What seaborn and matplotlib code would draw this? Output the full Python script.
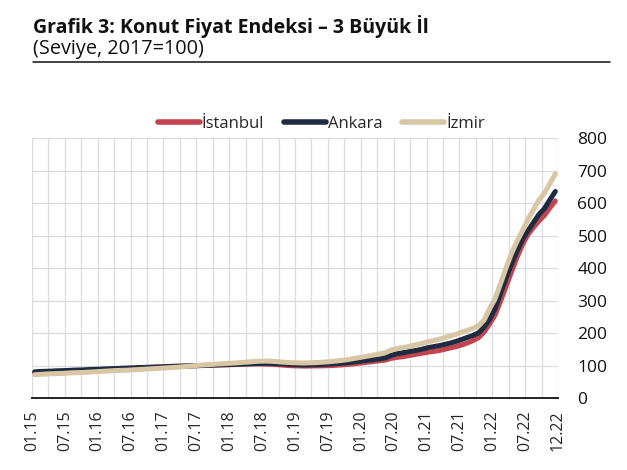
import numpy as np
import pandas as pd
import seaborn as sns
from matplotlib import pyplot as plt
from matplotlib.ticker import MultipleLocator

# Monthly index values, 01.2015 - 12.2022 (2017=100)
istanbul = [
    78, 79, 79.5, 80, 81, 82, 82.5, 83, 84, 84.5, 85, 86,
    87, 88, 88.5, 89.5, 90.5, 91.5, 92, 93, 93.5, 94.5, 95, 96,
    97, 97.5, 98, 98.5, 99, 99.5, 100, 100.5, 101, 101.5, 102, 102.5,
    103, 103.5, 104, 104.5, 105, 105, 104.5, 104, 103, 102, 100.5, 99.5,
    99, 98.5, 98.5, 99, 99, 99.5, 100, 101, 102, 103.5, 105, 107,
    109, 111, 113, 115, 117, 122, 125, 127, 130, 133, 136, 139,
    142, 144, 147, 151, 155, 159, 164, 170, 177, 186, 203, 228,
    255, 298, 343, 388, 432, 472, 503, 525, 545, 562, 585, 607,
]
ankara = [
    81, 82, 82.5, 83, 84, 84.5, 85, 86, 86.5, 87, 88, 88.5,
    89, 90, 90.5, 91, 92, 92.5, 93, 94, 94.5, 95, 95.5, 96,
    97, 97.5, 98, 98.5, 99, 99.5, 100, 100.5, 101, 102, 102.5, 103,
    103.5, 104, 105, 105.5, 106, 106.5, 107, 107, 106, 105, 104, 103,
    102.5, 102, 102, 102.5, 103, 104, 105, 106, 107.5, 109, 111, 113,
    115, 117, 119, 121, 124, 131, 136, 139, 142, 145, 148, 152,
    156, 159, 162, 166, 170, 175, 181, 187, 193, 201, 218, 242,
    275, 322, 368, 412, 452, 488, 515, 540, 565, 583, 610, 636,
]
izmir = [
    72, 73, 74, 75, 75.5, 76, 77, 78, 78.5, 79, 80, 81,
    82, 83, 84, 85, 85.5, 86, 87, 88, 89, 90, 91, 92,
    93, 94, 95, 96.5, 98, 99.5, 101, 102, 103, 104.5, 105.5, 106.5,
    107.5, 108.5, 110, 111, 112.5, 113.5, 114, 113.5, 112.5, 111, 110, 109,
    108.5, 108, 108.5, 109, 110, 111, 112.5, 114, 116, 118, 121, 124,
    127, 130, 133, 136, 140, 148, 152, 155, 158, 162, 166, 170,
    174, 178, 182, 187, 192, 197, 203, 209, 215, 223, 240, 275,
    305, 352, 400, 445, 482, 515, 550, 580, 610, 630, 660, 690,
]
months = pd.date_range("2015-01-01", "2022-12-01", freq="MS").strftime("%m.%y").tolist()
tick_labels = ["01.15", "07.15", "01.16", "07.16", "01.17", "07.17", "01.18", "07.18",
               "01.19", "07.19", "01.20", "07.20", "01.21", "07.21", "01.22", "07.22", "12.22"]
series_names = ["İstanbul", "Ankara", "İzmir"]
colors = ["#C1444F", "#1E2B40", "#D8C6A4"]

df = pd.DataFrame({"Ay": months, "İstanbul": istanbul, "Ankara": ankara, "İzmir": izmir})
df["pos"] = np.arange(len(df)) + 0.5  # category slot centres
long = df.melt(id_vars=["Ay", "pos"], value_vars=series_names, var_name="İl", value_name="Endeks")

sns.set_theme(style="white")
plt.rcParams["font.family"] = ["Open Sans", "DejaVu Sans"]

fig = plt.figure(figsize=(6.27, 4.70), dpi=100)
ax = fig.add_axes([0.051, 0.153, 0.839, 0.553])

sns.lineplot(data=long, x="pos", y="Endeks", hue="İl", hue_order=series_names,
             palette=colors, linewidth=3.6, ax=ax, legend=True)

ax.set_xlim(0, len(df))
ax.set_ylim(0, 800)
ax.yaxis.set_major_locator(MultipleLocator(100))
ax.yaxis.tick_right()
ax.tick_params(axis="y", length=0, labelsize=12.5, pad=14, colors="#111111")
ax.xaxis.set_minor_locator(MultipleLocator(3))
ax.set_xticks(np.arange(0, len(df) + 1, 6))
ax.set_xticklabels(tick_labels, rotation=90, fontsize=11.5)
ax.tick_params(axis="x", which="both", direction="out", length=6, width=1.4,
               color="#222222", pad=3)
ax.grid(True, which="both", color="#DCDCDC", linewidth=0.9)
ax.set_axisbelow(True)
for side in ["top", "left", "right"]:
    ax.spines[side].set_visible(False)
ax.spines["bottom"].set_color("#222222")
ax.spines["bottom"].set_linewidth(1.4)
ax.set_xlabel("")
ax.set_ylabel("")

leg = ax.legend(loc="lower center", bbox_to_anchor=(0.55, 1.0), ncol=3, frameon=False,
                fontsize=12, handlelength=2.5, handletextpad=0.12, columnspacing=1.2,
                borderaxespad=0)
for line in leg.get_lines():
    line.set_linewidth(4)

fig.text(0.053, 0.93, "Grafik 3: Konut Fiyat Endeksi – 3 Büyük İl", fontsize=14,
         fontweight="bold", ha="left", va="baseline", color="#111111")
fig.text(0.053, 0.886, "(Seviye, 2017=100)", fontsize=14.3, ha="left", va="baseline",
         color="#111111")
fig.add_artist(plt.Line2D([0.053, 0.973], [0.868, 0.868], color="#111111", linewidth=1.1))

fig.savefig("out.png", dpi=100)
